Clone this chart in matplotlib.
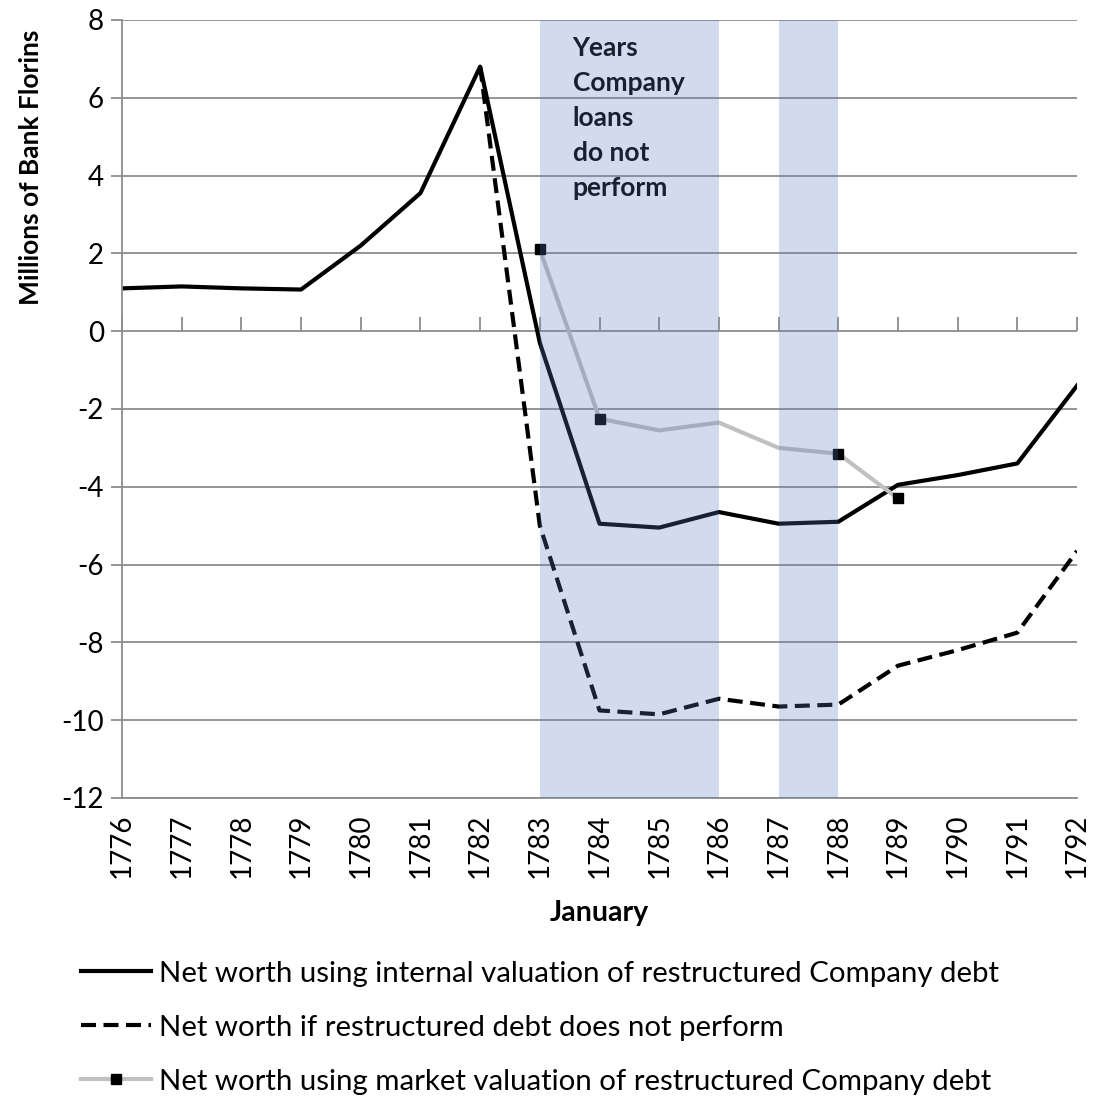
import numpy as np
import matplotlib.pyplot as plt
from matplotlib.lines import Line2D

plt.rcParams['font.family'] = ['Lato', 'DejaVu Sans']
plt.rcParams['axes.unicode_minus'] = False

years = np.arange(1776, 1793)
internal = [1.1, 1.15, 1.1, 1.07, 2.2, 3.55, 6.8, -0.3, -4.95, -5.05, -4.65, -4.95, -4.9, -3.95, -3.7, -3.4, -1.4]
no_perform_years = np.arange(1782, 1793)
no_perform = [6.8, -5.0, -9.75, -9.85, -9.45, -9.65, -9.6, -8.6, -8.2, -7.75, -5.65]
market_years = np.arange(1783, 1790)
market = [2.1, -2.25, -2.55, -2.35, -3.0, -3.15, -4.3]
market_marks = [0, 1, 5, 6]
bands = [(1783, 1786), (1787, 1788)]

labels = ["Net worth using internal valuation of restructured Company debt",
          "Net worth if restructured debt does not perform",
          "Net worth using market valuation of restructured Company debt"]

fig = plt.figure(figsize=(10.94, 10.97), dpi=100)
ax = fig.add_axes([0.1115, 0.2726, 0.873, 0.7092])

grid_c = "#8c8c8c"
dash = (0, (3.6, 1.8))
ax.plot(years, internal, color="black", lw=3.0, zorder=2)
ax.plot(no_perform_years, no_perform, color="black", lw=3.0, ls=dash, zorder=2)
ax.plot(market_years, market, color="#c0c0c0", lw=3.0, marker="s", ms=7,
        mfc="black", mec="black", markevery=market_marks, zorder=2)

for a, b in bands:
    ax.axvspan(a, b, facecolor=(0.36, 0.49, 0.75), alpha=0.27, lw=0, zorder=3)

ax.text(1783.55, 7.6, "Years\nCompany\nloans\ndo not\nperform", fontsize=19, fontweight="bold",
        color="#17202e", va="top", ha="left", linespacing=1.55, zorder=4)

ax.set_xlim(1776, 1792)
ax.set_ylim(-12, 8)
ax.set_yticks(np.arange(-12, 9, 2))
ax.set_xticks(years)
ax.set_xticklabels([str(y) for y in years], rotation=90, fontsize=20)
ax.tick_params(axis="x", length=0, pad=11)
ax.tick_params(axis="y", labelsize=20, length=8, width=1.3, color=grid_c, pad=5)
ax.grid(axis="y", color=grid_c, lw=1.3)
ax.set_axisbelow(True)
for s in ["top", "right"]:
    ax.spines[s].set_visible(False)
ax.spines["left"].set_color(grid_c)
ax.spines["left"].set_linewidth(1.3)
ax.spines["bottom"].set_color(grid_c)
ax.spines["bottom"].set_linewidth(1.3)

sec = ax.secondary_xaxis(0.6)
sec.set_xticks(years)
sec.set_xticklabels([])
sec.tick_params(direction="out", length=10, width=1.3, color=grid_c)
sec.spines["bottom"].set_visible(False)
sec.spines["top"].set_visible(False)

ax.set_xlabel("January", fontsize=20.5, fontweight="bold", labelpad=16)
ax.set_ylabel("Millions of Bank Florins", fontsize=19, fontweight="bold")
ax.yaxis.set_label_coords(-0.083, 0.81)

handles = [Line2D([], [], color="black", lw=3.0),
           Line2D([], [], color="black", lw=3.0, ls=dash),
           Line2D([], [], color="#c0c0c0", lw=3.0, marker="s", ms=7, mfc="black", mec="black")]
fig.legend(handles, labels, loc="upper left", bbox_to_anchor=(0.063, 0.135), frameon=False,
           fontsize=21.2, handlelength=2.4, handletextpad=0.27, labelspacing=0.95,
           borderaxespad=0)

fig.savefig("out.png", dpi=100)
